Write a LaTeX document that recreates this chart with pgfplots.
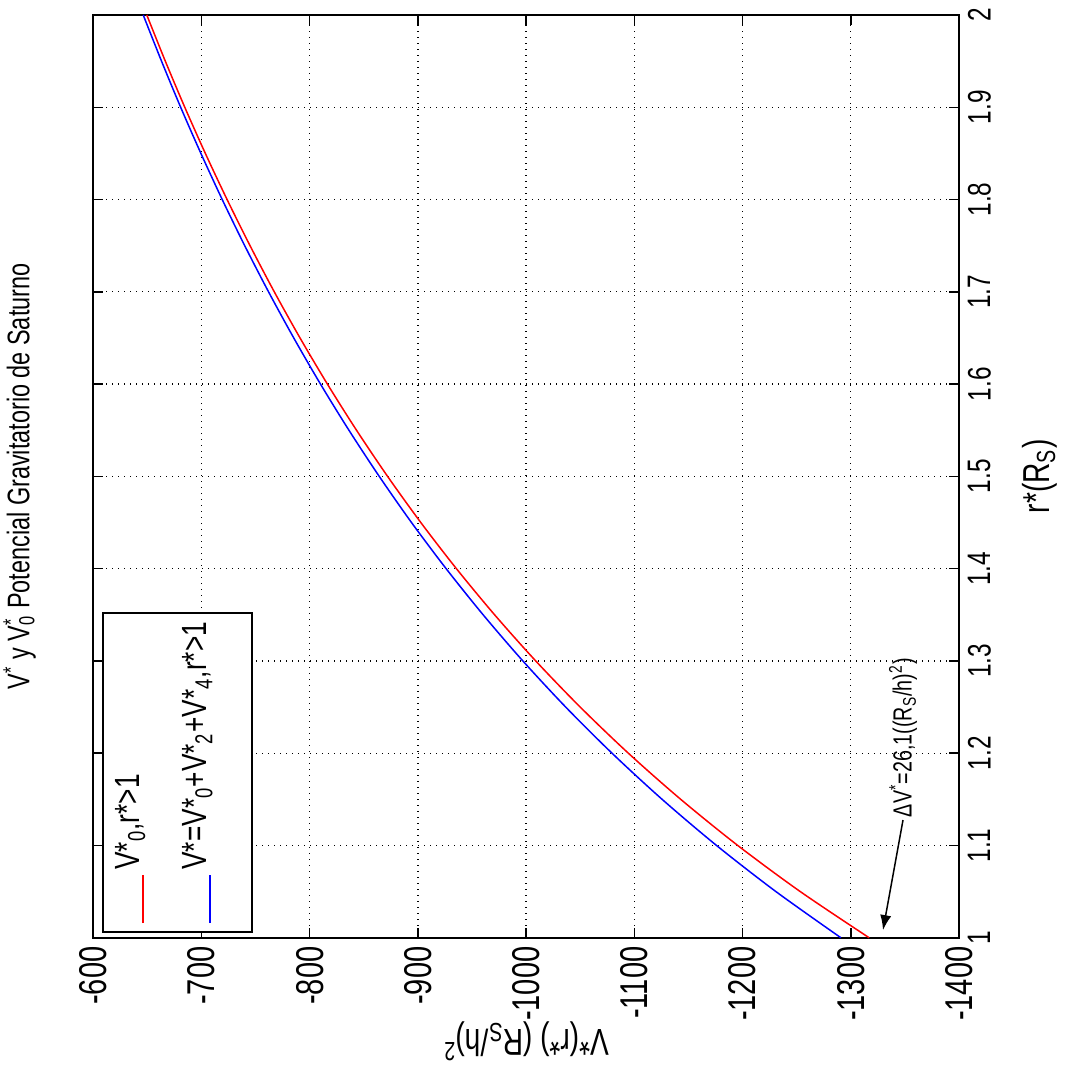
\documentclass[border=0pt]{standalone}
\usepackage{fontspec}
\setmainfont[FakeStretch=0.75]{Liberation Sans}
\usepackage{pgfplots}
\pgfplotsset{compat=1.18}
\usetikzlibrary{arrows.meta}
\begin{document}
\begin{tikzpicture}
\begin{axis}[
  scale only axis, width=346.3pt, height=369.1pt,
  at={(0pt,0pt)}, anchor=south west,
  x dir=reverse,
  xmin=-1400, xmax=-600, ymin=1, ymax=2,
  clip=false,
  /pgf/number format/assume math mode=true,
  xtick={-1400,-1300,-1200,-1100,-1000,-900,-800,-700,-600},
  xticklabels={-1400,-1300,-1200,-1100,-1000,-900,-800,-700,-600},
  ytick={1,1.1,1.2,1.3,1.4,1.5,1.6,1.7,1.8,1.9,2},
  yticklabels={1,1.1,1.2,1.3,1.4,1.5,1.6,1.7,1.8,1.9,2},
  tick align=inside, major tick length=4pt,
  xtick pos=both, ytick pos=both,
  xticklabel pos=left, yticklabel pos=right,
  tick style={black, line width=0.6pt},
  xticklabel style={font=\fontsize{15.5}{15.5}\selectfont, rotate=90, anchor=east},
  yticklabel style={font=\fontsize{13}{13}\selectfont, rotate=90, anchor=north},
  grid=major,
  major grid style={black, dotted, line width=0.5pt},
  axis line style={black, line width=0.8pt},
  every axis title/.style={at={(axis description cs:-0.085,0.5)}, rotate=90, anchor=center, font=\fontsize{12.5}{14}\selectfont},
  every axis x label/.style={at={(axis description cs:0.5,-0.112)}, rotate=180, anchor=center, font=\fontsize{15}{16}\selectfont},
  every axis y label/.style={at={(axis description cs:1.093,0.5)}, rotate=90, anchor=center, font=\fontsize{15}{16}\selectfont},
  title={V\textsuperscript{*} y V\rlap{\textsuperscript{*}}\textsubscript{0} Potencial Gravitatorio de Saturno},
  xlabel={V*(r*) (R\textsubscript{S}/h)\textsuperscript{2}},
  ylabel={r*(R\textsubscript{S})},
]
\addplot[red, line width=0.6pt, smooth] coordinates {
(-1317.0,1.00) (-1253.4,1.05) (-1195.6,1.10) (-1142.9,1.15) (-1094.5,1.20)
(-1050.0,1.25) (-1008.9,1.30) (-970.9,1.35) (-935.6,1.40) (-902.7,1.45)
(-872.0,1.50) (-843.3,1.55) (-816.4,1.60) (-791.1,1.65) (-767.3,1.70)
(-744.9,1.75) (-723.7,1.80) (-703.6,1.85) (-684.6,1.90) (-666.6,1.95)
(-649.5,2.00)};
\addplot[blue, line width=0.6pt, smooth] coordinates {
(-1290.9,1.00) (-1230.9,1.05) (-1176.0,1.10) (-1125.7,1.15) (-1079.4,1.20)
(-1036.6,1.25) (-997.0,1.30) (-960.3,1.35) (-926.1,1.40) (-894.1,1.45)
(-864.3,1.50) (-836.3,1.55) (-810.0,1.60) (-785.3,1.65) (-762.0,1.70)
(-740.0,1.75) (-719.2,1.80) (-699.5,1.85) (-680.8,1.90) (-663.1,1.95)
(-646.2,2.00)};
% legend (rotated, drawn by hand)
\draw[black, line width=0.6pt, fill=white] (axis cs:-609,1.006) rectangle (axis cs:-746.7,1.352);
\draw[red, line width=0.6pt] (axis cs:-646,1.016) -- (axis cs:-646,1.068);
\node[rotate=90, anchor=base west, font=\fontsize{14}{16}\selectfont, inner sep=0pt] at (axis cs:-643,1.0734) {V*\textsubscript{0},r*>1};
\draw[blue, line width=0.6pt] (axis cs:-708,1.016) -- (axis cs:-708,1.068);
\node[rotate=90, anchor=base west, font=\fontsize{14}{16}\selectfont, inner sep=0pt] at (axis cs:-705,1.0734) {V*=V*\textsubscript{0}+V*\textsubscript{2}+V*\textsubscript{4},r*>1};
% annotation
\draw[-{Latex[length=6pt,width=4.5pt]}, line width=0.6pt] (axis cs:-1348.3,1.1276) -- (axis cs:-1329.8,1.0083);
\node[rotate=90, anchor=west, font=\fontsize{10.5}{12}\selectfont, inner sep=1pt] at (axis cs:-1348.3,1.1276) {ΔV\textsuperscript{*}=26,1((R\textsubscript{S}/h)\textsuperscript{2})};
\end{axis}
\pgfresetboundingbox
\path (-37.3pt,-51.3pt) rectangle (390.3pt,375.1pt);
\end{tikzpicture}
\end{document}
